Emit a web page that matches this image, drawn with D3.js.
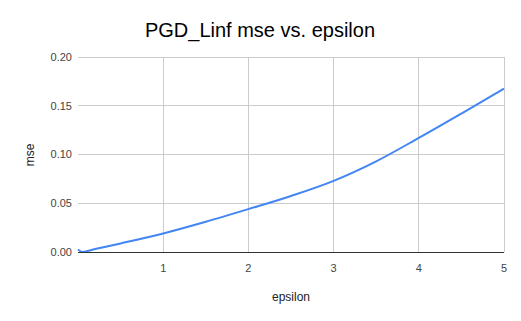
<!DOCTYPE html>
<html><head><meta charset="utf-8">
<script src="https://cdn.jsdelivr.net/npm/d3@7"></script>
<style>body{margin:0;background:#fff}svg{display:block}text{font-family:"Liberation Sans",Arial,sans-serif}</style>
</head><body><svg id="c" width="521" height="321"></svg>
<script>
const epsilon = [0, 0.05, 0.2, 0.5, 1, 1.5, 2, 2.5, 3, 3.5, 4, 4.5, 5];
const mse = [0.0025, 0.0, 0.003, 0.0088, 0.019, 0.031, 0.044, 0.0575, 0.073, 0.093, 0.117, 0.142, 0.1675];
const xTicks = [1, 2, 3, 4, 5];
const yTicks = [0, 0.05, 0.10, 0.15, 0.20];

const svg = d3.select("#c");
const L = 78, R = 504, T = 57, B = 252;
const x = d3.scaleLinear().domain([0, 5]).range([L, R]);
const y = d3.scaleLinear().domain([0, 0.2]).range([B, T]);

svg.append("rect").attr("width", 521).attr("height", 321).attr("fill", "#fff");

const g = svg.append("g");
g.selectAll(".hg").data(yTicks.slice(1)).join("line")
  .attr("x1", L).attr("x2", R).attr("y1", d => y(d)).attr("y2", d => y(d))
  .attr("stroke", "#cccccc").attr("stroke-width", 1).attr("shape-rendering", "crispEdges");
g.selectAll(".vg").data(xTicks).join("line")
  .attr("x1", d => x(d)).attr("x2", d => x(d)).attr("y1", T).attr("y2", B)
  .attr("stroke", "#cccccc").attr("stroke-width", 1).attr("shape-rendering", "crispEdges");

g.selectAll(".yl").data(yTicks).join("text")
  .attr("x", L - 6).attr("y", d => y(d)).attr("dy", "0.35em")
  .attr("text-anchor", "end").attr("font-size", 11).attr("fill", "#444")
  .text(d => d3.format(".2f")(d));
g.selectAll(".xl").data(xTicks).join("text")
  .attr("x", d => x(d)).attr("y", B + 16).attr("dy", "0.35em")
  .attr("text-anchor", "middle").attr("font-size", 11).attr("fill", "#444")
  .text(d => d);

const line = d3.line().x((d, i) => x(epsilon[i])).y(d => y(d)).curve(d3.curveMonotoneX);
svg.append("path").datum(mse).attr("d", line)
  .attr("fill", "none").attr("stroke", "#4285f4").attr("stroke-width", 2);

svg.append("line").attr("x1", L).attr("x2", R).attr("y1", B + 0.5).attr("y2", B + 0.5)
  .attr("stroke", "#333").attr("stroke-width", 1);

svg.append("text").attr("x", 260).attr("y", 37).attr("text-anchor", "middle")
  .attr("font-size", 20).attr("fill", "#000").text("PGD_Linf mse vs. epsilon");
svg.append("text").attr("x", 291).attr("y", 301).attr("text-anchor", "middle")
  .attr("font-size", 12).attr("fill", "#222").text("epsilon");
svg.append("text").attr("transform", "translate(34,155) rotate(-90)").attr("text-anchor", "middle")
  .attr("font-size", 12).attr("fill", "#222").text("mse");
</script></body></html>
